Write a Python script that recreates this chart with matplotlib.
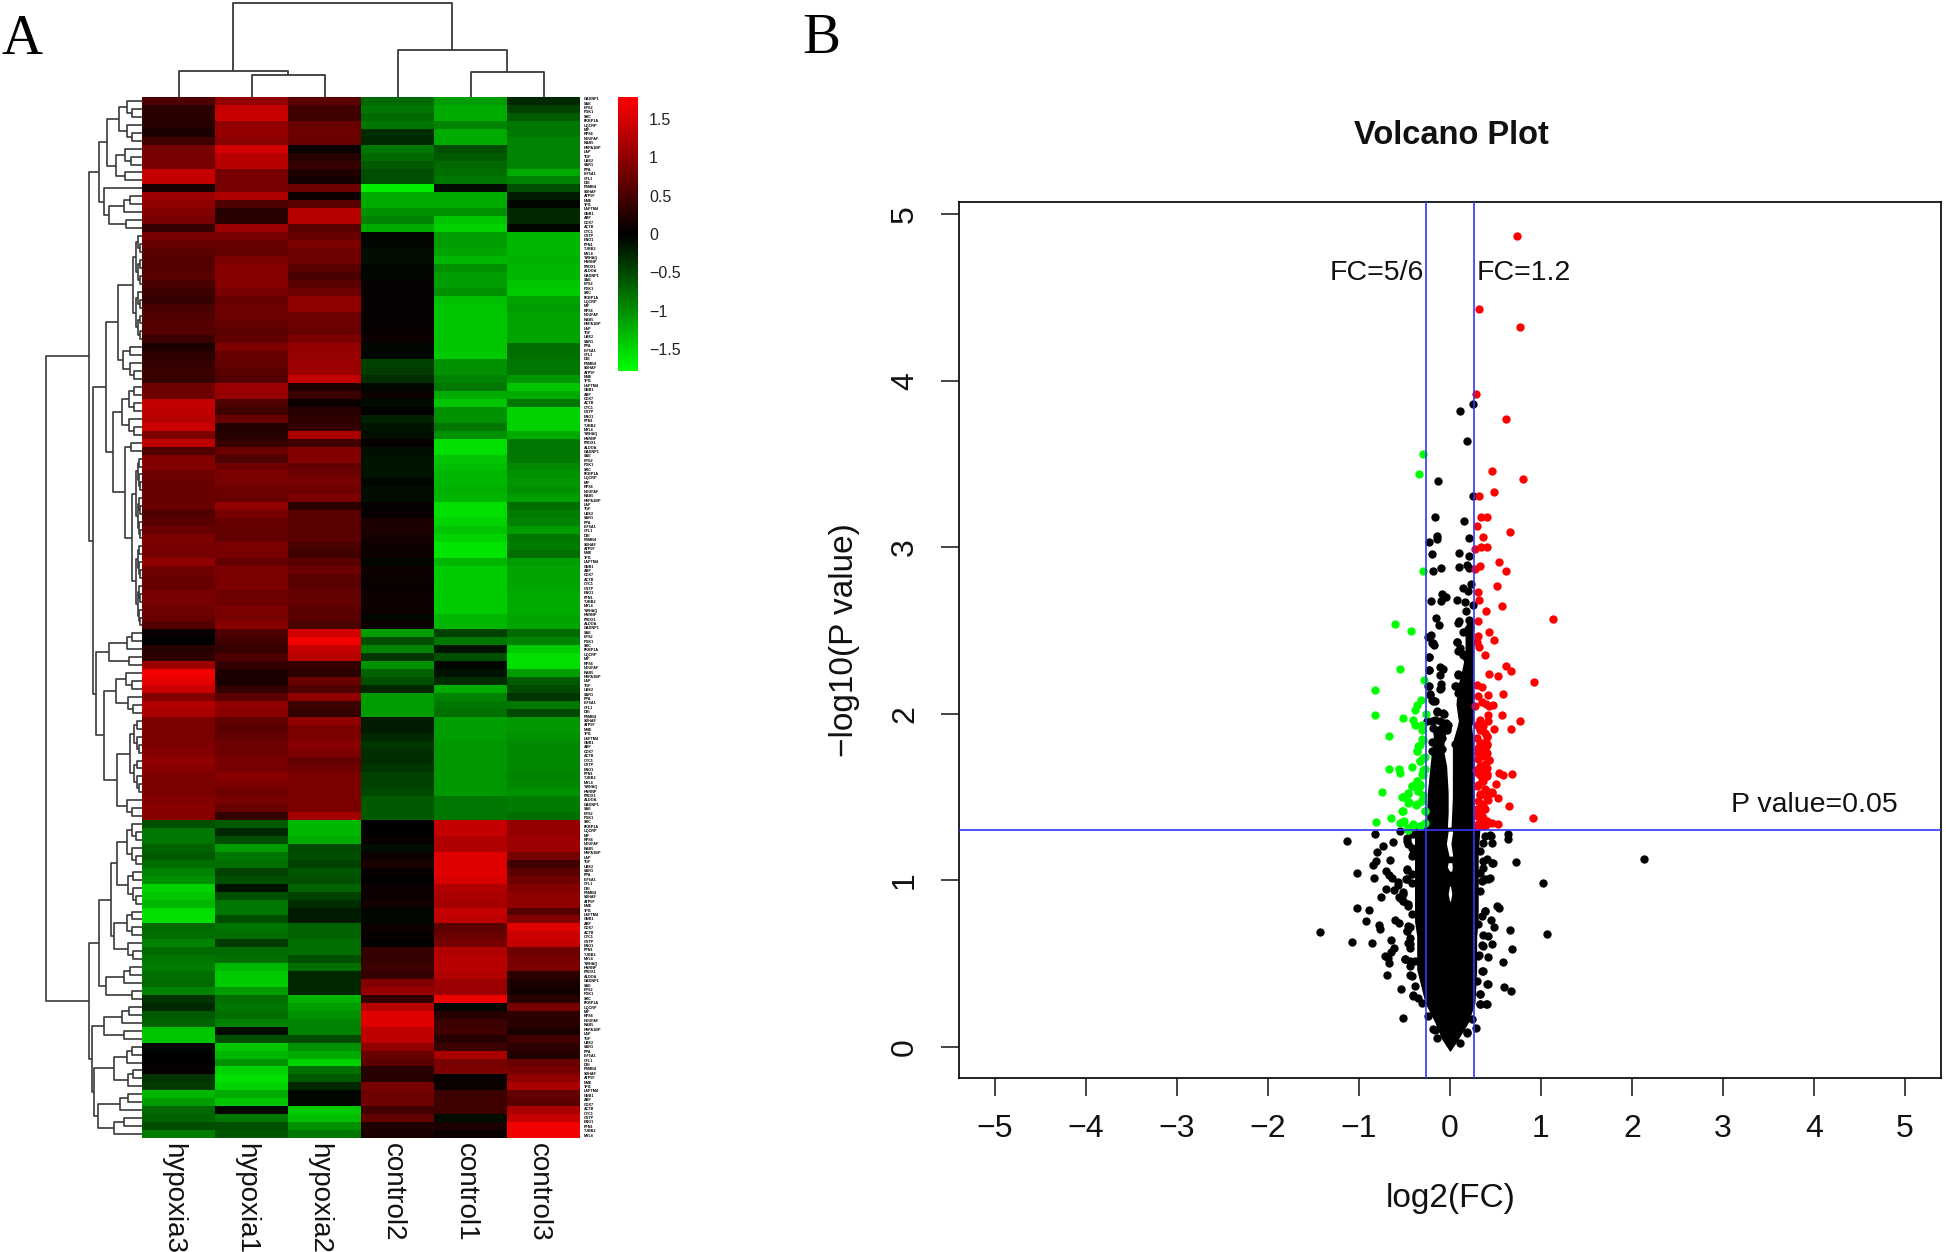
import numpy as np
import matplotlib
matplotlib.use('Agg')
import matplotlib.pyplot as plt
from matplotlib.colors import LinearSegmentedColormap
from matplotlib.collections import LineCollection

plt.rcParams['font.family'] = ['Liberation Sans', 'DejaVu Sans']

W, H = 1946, 1252

# panel A, heat map, one list per column (row values)
samples = ['hypoxia3', 'hypoxia1', 'hypoxia2', 'control2', 'control1', 'control3']
hypoxia3 = [0.6, 0.35, 0.35, 0.3, 0.2, 0.5, 0.9, 0.9, 0.9, 1.5, 1.5, 0.2, 1.2, 1.1, 1.0, 0.9, 0.4,
            0.9, 0.8, 0.7, 0.65, 0.65, 0.7, 0.55, 0.45, 0.4, 0.55, 0.6, 0.65, 0.65, 0.45, 0.2, 0.35,
            0.4, 0.45, 0.4, 0.85, 0.85, 1.5, 1.45, 1.4, 1.55, 0.95, 1.45, 0.6, 1.0, 1.0, 0.85, 0.8,
            0.8, 0.8, 0.8, 0.6, 0.7, 0.8, 0.95, 0.9, 0.9, 1.1, 0.85, 0.8, 0.8, 0.9, 0.9, 0.85,
            0.8, 0.65, 0.05, 0.0, 0.3, 0.35, 1.2, 1.85, 1.75, 1.55, 1.0, 1.35, 1.3, 0.95, 0.95, 0.95,
            0.95, 1.0, 1.1, 1.05, 0.95, 0.95, 0.95, 1.0, 1.05, 1.05, -0.6, -0.9,
            -0.9, -0.75, -0.7, -0.85, -1.0, -1.1, -1.6, -1.5, -1.4, -1.7, -1.7, -0.8, -0.85, -1.0,
            -0.8, -0.9, -0.95, -0.85, -0.8, -1.0, -0.4, -0.3, -0.7, -0.75, -1.5, -1.5, -0.05, 0.0,
            0.0, 0.05, -0.4, -0.45, -1.4, -1.2, -0.8, -0.75, -0.6, -0.95]
hypoxia1 = [1.1, 1.5, 1.55, 1.1, 1.15, 1.05, 1.6, 1.4, 1.4, 0.9, 0.9, 0.9, 1.35, 0.6, 0.3, 0.35, 1.2,
            0.9, 0.8, 0.75, 0.95, 1.05, 1.05, 1.05, 0.9, 0.8, 0.85, 0.85, 0.75, 0.7, 0.75, 0.95, 0.8,
            0.75, 0.7, 0.65, 1.2, 1.15, 0.6, 0.5, 0.8, 0.25, 0.3, 0.4, 0.8, 0.6, 0.85, 0.95, 0.9,
            0.85, 0.8, 1.1, 0.9, 0.8, 0.75, 0.75, 0.95, 0.9, 0.75, 0.95, 0.95, 0.95, 0.85, 0.85, 0.95,
            0.9, 1.05, 0.6, 0.5, 0.4, 0.6, 0.4, 0.2, 0.2, 0.4, 0.7, 1.1, 1.05, 0.75, 0.7, 0.75,
            0.85, 0.85, 0.9, 0.9, 1.05, 0.95, 0.85, 0.9, 0.8, 0.4, -0.7, -0.3,
            -0.6, -1.2, -0.9, -0.85, -0.5, -0.6, -0.15, -0.6, -0.9, -0.9, -0.6, -0.9, -0.85, -0.45,
            -0.8, -0.85, -1.4, -1.55, -1.55, -1.2, -0.85, -0.9, -0.85, -1.0, -0.1, -0.6, -1.5, -1.4,
            -1.1, -1.6, -1.7, -1.6, -1.3, -1.5, -0.05, -0.9, -0.6, -0.65]
hypoxia2 = [0.7, 0.5, 0.5, 0.8, 0.85, 0.8, 0.05, 0.3, 0.4, 0.25, 0.15, 0.85, 0.1, 0.7, 1.4, 1.4, 0.7,
            0.8, 0.95, 0.85, 0.85, 0.7, 0.55, 0.7, 0.85, 1.1, 1.1, 0.85, 0.85, 0.8, 0.95, 1.15, 1.15,
            1.2, 1.2, 1.5, 0.25, 0.45, 0.1, 0.3, 0.35, 0.4, 1.3, 0.5, 1.0, 1.0, 0.75, 0.85, 0.9,
            0.85, 0.95, 0.35, 0.7, 0.7, 0.7, 0.7, 0.55, 0.5, 0.7, 0.8, 0.7, 0.7, 0.75, 0.75, 0.7,
            0.7, 0.55, 1.6, 1.85, 1.5, 1.4, 0.4, 0.35, 0.8, 0.6, 1.1, 0.45, 0.4, 1.1, 0.95, 0.95,
            1.05, 0.95, 0.75, 0.85, 0.95, 0.95, 0.95, 0.95, 0.95, 1.25, -1.4, -1.4,
            -1.3, -0.55, -0.6, -0.5, -0.65, -0.6, -0.75, -0.5, -0.35, -0.2, -0.2, -0.75, -0.75, -0.85,
            -0.85, -0.6, -0.85, -0.3, -0.3, -0.3, -1.35, -1.2, -1.1, -1.0, -1.0, -0.55, -1.1, -1.3,
            -1.6, -0.85, -0.7, -0.3, -0.05, -0.05, -1.55, -1.45, -1.1, -0.9]
control2 = [-0.8, -0.9, -0.8, -0.9, -0.35, -0.3, -0.9, -0.8, -0.7, -0.6, -0.6, -1.8, -1.3, -1.3, -1.1, -1.0, -1.3,
            -0.05, -0.05, -0.1, -0.1, -0.05, -0.05, 0.05, 0.05, 0.05, 0.05, 0.05, 0.05, 0.05, 0.1, -0.05, -0.05,
            -0.5, -0.45, -0.35, -0.05, 0.1, -0.1, 0.0, -0.25, -0.15, -0.1, 0.05, -0.1, -0.15, -0.15, -0.15, -0.05,
            -0.1, -0.1, 0.05, 0.05, 0.2, 0.2, 0.15, 0.1, 0.1, -0.05, 0.1, 0.1, 0.05, 0.1, 0.1, 0.1,
            -0.05, 0.1, -1.2, -0.6, -1.0, -0.4, -1.1, -0.75, -0.6, -0.3, -1.2, -1.2, -1.2, -0.2, -0.2, -0.3,
            -0.4, -0.35, -0.35, -0.4, -0.5, -0.5, -0.55, -0.7, -0.7, -0.7, 0.0, 0.0,
            0.05, -0.1, 0.1, 0.2, 0.05, 0.0, 0.1, 0.1, 0.15, -0.05, -0.05, 0.1, 0.05, 0.0,
            0.4, 0.4, 0.45, 0.4, 1.0, 1.15, 0.4, 1.4, 1.7, 1.7, 1.45, 1.45, 1.1, 0.8,
            0.7, 0.3, 0.3, 0.9, 0.85, 0.85, 0.5, 0.75, 0.25, 0.2]
control1 = [-1.2, -1.3, -1.3, -1.0, -1.3, -1.3, -0.6, -0.7, -0.8, -0.85, -0.9, -0.1, -1.3, -1.3, -1.1, -1.5, -1.6,
            -1.2, -1.2, -1.25, -1.4, -1.1, -1.2, -1.2, -1.1, -1.45, -1.5, -1.5, -1.5, -1.5, -1.5, -1.5, -1.55,
            -1.1, -1.1, -1.0, -0.9, -1.3, -1.5, -1.1, -1.1, -0.9, -1.1, -1.7, -1.7, -1.5, -1.45, -1.4, -1.4,
            -1.35, -1.4, -1.7, -1.7, -1.6, -1.5, -1.6, -1.75, -1.75, -1.4, -1.55, -1.55, -1.55, -1.55, -1.55, -1.55,
            -1.4, -1.4, -0.5, -0.9, -0.15, -0.6, -0.05, -0.15, -0.35, -1.3, -1.0, -0.9, -0.85, -1.2, -1.2, -1.2,
            -1.15, -1.15, -1.15, -1.15, -1.15, -1.15, -1.15, -0.9, -0.9, -0.9, 1.5, 1.5,
            1.35, 1.35, 1.7, 1.7, 1.7, 1.65, 1.35, 1.3, 1.25, 1.5, 1.45, 0.7, 0.8, 0.9,
            1.35, 1.4, 1.4, 1.35, 1.2, 1.2, 1.8, -0.05, 0.3, 0.45, 0.5, 0.3, 0.45, 1.3,
            0.9, 0.95, 0.05, 0.1, 0.45, 0.5, 0.5, -0.1, 0.2, 0.1]
control3 = [-0.3, -0.5, -0.7, -0.9, -0.9, -1.0, -1.0, -1.0, -1.0, -1.3, -1.0, -0.6, -0.2, -0.05, -0.3, -0.3, -0.05,
            -1.4, -1.4, -1.4, -1.35, -1.4, -1.4, -1.5, -1.55, -1.25, -1.2, -1.25, -1.25, -1.25, -1.25, -0.85, -0.85,
            -0.9, -0.9, -1.15, -1.5, -1.3, -0.9, -1.6, -1.6, -1.6, -1.3, -0.9, -0.9, -0.9, -1.05, -1.1, -1.15,
            -1.1, -1.2, -0.85, -0.95, -1.0, -1.2, -0.9, -0.95, -0.85, -1.2, -1.25, -1.25, -1.25, -1.3, -1.3, -1.3,
            -1.25, -1.25, -0.8, -1.0, -1.55, -1.7, -1.7, -1.2, -0.7, -0.55, -0.4, -0.9, -0.55, -1.15, -1.15, -1.1,
            -1.05, -1.05, -1.05, -1.05, -1.0, -1.05, -1.1, -0.95, -0.95, -0.85, 1.15, 1.15,
            1.2, 1.2, 0.9, 0.5, 0.7, 0.85, 1.0, 1.1, 1.1, 0.65, 1.0, 1.7, 1.55, 1.5,
            0.85, 0.9, 0.95, 0.35, 0.2, 0.15, 0.3, 0.9, 0.35, 0.35, 0.2, 0.5, 0.35, 0.25,
            0.8, 0.9, 1.1, 1.3, 0.75, 0.7, 1.3, 1.5, 1.85, 1.85]
heat_columns = [hypoxia3, hypoxia1, hypoxia2, control2, control1, control3]

# merge heights of the dendrograms; an int is a block of that many rows
col_tree = (94, (26, 1, (22, 1, 1)), (47, 1, (25, 1, 1)))
row_a1 = (43, (35, (23, 3, 3), (26, 3, 2)), (38, 1, (33, (18, 2, 1), (16, 1, 1))))
row_a2a = (36, (24, (9, 7, 7), (19, 2, 3)),
           (29, (20, (13, 2, 2), (13, 1, 2)), (17, 2, (10, 11, 11))))
row_a2b = (46, (33, (15, 2, 1), (13, 1, 1)),
           (38, (26, (16, 1, 2), (14, 1, 2)), (25, (12, 5, 5), (15, 1, 2))))
row_b1 = (43, (31, (25, (15, 3, 3), (14, 2, 3)), (28, (15, 2, 2), (14, 1, 2))),
          (36, (18, 2, 1), (10, 1, 1)))
row_b2 = (50, (38, (20, 2, 1), (18, 1, 1)),
          (48, (28, (15, 2, 1), (14, 2, 1)), (44, (22, 2, 1), (28, 2, 1))))
row_tree = (96, (53, row_a1, (49, row_a2a, row_a2b)), (53, row_b1, row_b2))

# tiny row labels, not legible in the source
gene_names = ['GADNP1', 'SAE', 'EPS2', 'PGK1', 'SRC', 'FKBP1A', 'UQCRP', 'MIF', 'RPS6', 'NDUFAF',
              'RAB5', 'HSPA1BP', 'LAP', 'TGF', 'UBE2', 'SAR1', 'PPA', 'EIF5A1', 'CFL1', 'DBI',
              'PSMB4', 'SDHAF', 'ATP5F', 'NME', 'TPI1', 'LAPTM4', 'GNB1', 'ARF', 'COX7', 'ACTB',
              'CYC1', 'GSTP', 'ENO1', 'PFN1', 'TUBB2', 'MYL6', 'YWHAQ', 'HNRNP', 'PRDX1', 'ALDOA']
cbar_ticks = [1.5, 1, 0.5, 0, -0.5, -1, -1.5]
cbar_labels = ['1.5', '1', '0.5', '0', '\u22120.5', '\u22121', '\u22121.5']

# panel B, volcano plot
red_x = [.733, .319, .766, .282, .612, .465, .799, .487, .319, .341, .410, .293, .663, .359, .275, .337, .403,
         .535, .615, .33, .278, .516, .311, .322, .575, .399, .311, 1.132, .432, .308, .484, .293, .322, .388,
         .615, .674, .429, .527, .919, .293, .355, .311, .418, .586, .348, .399, .473, .429, .275, .575, .421,
         .33, .769, .421, .293, .366, .487, .67, .33, .403, .293, .33, .403, .366, .311, .403, .366, .429, .33,
         .403, .286, .542, .678, .41, .586, .33, .502, .366, .311, .403, .465, .527, .33, .421, .366, .311,
         .648, .33, .908, .366, .33, .465, .531, .396, .30, .30,
         .33, .385, .41, .366, .41, .311, .385, .348, .311, .385, .432, .366, .311, .403, .348, .30, .385, .458,
         .33, .403, .348, .30, .385, .348, .403, .311, .366]
red_y = [4.87, 4.43, 4.32, 3.92, 3.77, 3.46, 3.41, 3.33, 3.31, 3.18, 3.18, 3.125, 3.09, 3.06, 2.99, 3.00, 3.00,
         2.91, 2.86, 2.89, 2.87, 2.77, 2.73, 2.685, 2.65, 2.62, 2.557, 2.567, 2.49, 2.47, 2.44, 2.43, 2.40, 2.35,
         2.285, 2.255, 2.24, 2.225, 2.19, 2.17, 2.16, 2.105, 2.115, 2.12, 2.07, 2.06, 2.055, 2.045, 2.045, 1.99, 1.99,
         1.965, 1.955, 1.955, 1.935, 1.925, 1.91, 1.91, 1.905, 1.86, 1.855, 1.825, 1.815, 1.795, 1.765, 1.765, 1.745, 1.72, 1.685,
         1.675, 1.665, 1.645, 1.64, 1.64, 1.63, 1.635, 1.58, 1.595, 1.575, 1.535, 1.525, 1.495, 1.515, 1.48, 1.455, 1.475,
         1.445, 1.425, 1.375, 1.375, 1.345, 1.345, 1.34, 1.335, 1.385, 1.325,
         1.907, 1.887, 1.867, 1.827, 1.817, 1.797, 1.787, 1.757, 1.727, 1.697, 1.72, 1.657, 1.647, 1.627, 1.597, 1.567, 1.547, 1.531,
         1.517, 1.497, 1.457, 1.427, 1.427, 1.387, 1.357, 1.337, 1.327]
green_x = [-.30, -.34, -.30, -.608, -.429, -.546, -.282, -.824, -.322, -.359, -.381, -.82, -.264, -.52, -.403, -.385,
           -.304, -.311, -.67, -.30, -.33, -.366, -.275, -.33, -.667, -.56, -.549, -.421, -.293, -.30, -.366, -.421,
           -.747, -.33, -.458, -.348, -.52, -.293, -.458, -.377, -.311, -.52, -.275, -.648, -.813, -.513, -.549, -.41,
           -.33, -.458,
           -.311, -.311, -.348, -.366, -.33, -.293, -.275, -.311, -.366, -.421, -.33, -.348, -.524, -.465, -.447, -.366,
           -.311, -.275, -.524, -.531, -.502, -.403, -.33, -.465, -.275]
green_y = [3.56, 3.44, 2.86, 2.54, 2.50, 2.27, 2.20, 2.14, 2.08, 2.05, 2.02, 1.995, 2.00, 1.975, 1.96, 1.935,
           1.935, 1.90, 1.865, 1.845, 1.815, 1.775, 1.74, 1.715, 1.67, 1.67, 1.645, 1.68, 1.665, 1.63, 1.595, 1.565,
           1.53, 1.565, 1.525, 1.535, 1.50, 1.515, 1.465, 1.45, 1.485, 1.415, 1.415, 1.375, 1.35, 1.35, 1.345, 1.335,
           1.325, 1.305,
           1.907, 1.847, 1.807, 1.777, 1.717, 1.737, 1.667, 1.637, 1.597, 1.567, 1.577, 1.537, 1.50, 1.52, 1.47, 1.457,
           1.477, 1.417, 1.415, 1.35, 1.357, 1.337, 1.327, 1.317, 1.347]
black_x = [.253, .11, .183, -.128, .256, -.165, .15, -.147, -.147, -.227, .209, -.198, .099, .209, -.183, -.103, .099,
           .19, .212, .227, .147, .201, -.084, -.044, -.103, -.205, .077, .165, .256, .176, -.158, .095, .205, -.117,
           .147, .22, -.212, -.238, .081, -.201, -.176, .11, .147, -.234, -.11, -.227, -.11, .092, -.103, -.103, -.234,
           .062, -.22, -.201, -.165, -.139, -.062, -.256, -.165, -.073, -.018, -.029, -.147, -.092, -.201, .055, -.092,
           -.128, -.201,
           2.136, .722, 1.026, 1.07, -1.132, -.824, -.546, -.63, -.733, -.799, -.656, -.813, -.842, -1.018, -.832, -.703,
           -.674, -.641, -.568, -.575, -.707, -.615, -.513, -.762, -.557, -.513, -1.018, -.89, -.919, -.601, -.56, -.777,
           -.766, -1.425, -1.073, -.853, -.645, -.615, -.645, -.711, -.678, -.67, -.689, -.538, -.516, -.495, -.44, -.476,
           -.476, -.484, -.458, -.44, -.44, -.403, -.476, -.458, -.403, -.403,
           .634, .641, .447, .458, .469, .366, .421, .348, .513, .535, .385, .447, .487, .659, .366, .418, .465, .355,
           .685, .421, .315, .579, .366, .421, .597, .667, .33, .396, .33, .289, .183, -.165,
           -.469, -.421, -.421, -.469, -.421, -.469, -.421, -.513, -.549, -.513, -.458, -.421, -.458, -.469, -.44,
           .385, .44, .366, .33, .403, .465, .366, .33, .44, .385, .33, .385, .348, .311,
           -.458, -.44, -.495, -.44, -.385, -.44, -.421, -.385, -.403, -.348, -.311, -.238, -.183, -.147,
           .366, .311, .348, .293, .403, .33, .403, .33, .238, .183, .11,
           -.19, -.231, -.231, -.073, -.238, -.11, -.22, -.183, -.147, -.073, -.201, -.11, -.044, -.183, -.092, -.029,
           .092, .201, .081, .092, .147, .183, .092, .055, .092]
black_y = [3.86, 3.82, 3.64, 3.40, 3.31, 3.18, 3.155, 3.07, 3.05, 3.03, 3.055, 2.96, 2.965, 2.95, 2.86, 2.875, 2.88,
           2.895, 2.875, 2.78, 2.755, 2.735, 2.72, 2.70, 2.68, 2.68, 2.685, 2.67, 2.655, 2.62, 2.575, 2.555, 2.565, 2.535,
           2.49, 2.52, 2.475, 2.46, 2.43, 2.425, 2.41, 2.395, 2.355, 2.34, 2.28, 2.26, 2.235, 2.235, 2.18, 2.155, 2.165,
           2.165, 2.115, 2.08, 2.075, 2.01, 2.00, 1.955, 1.96, 1.945, 1.935, 1.90, 1.885, 1.855, 1.83, 1.82, 1.79,
           1.755, 1.775,
           1.128, 1.108, .986, .68, 1.235, 1.277, 1.295, 1.232, 1.206, 1.17, 1.125, 1.116, 1.092, 1.042, 1.014, 1.056,
           1.03, 1.012, .99, .972, .948, .94, .93, .90, .90, .876, .832, .822, .758, .764, .742, .732,
           .708, .692, .628, .626, .64, .594, .57, .546, .532, .506, .434, .348, .172, .526, .72, .696,
           1.06, 1.006, .856, .616, .43, .312, 1.256, 1.216, 1.277, 1.156,
           1.277, 1.246, 1.267, 1.226, 1.102, 1.116, 1.006, .996, .846, .832, .816, .762, .72, .702, .67, .666, .618, .612,
           .588, .542, .55, .512, .456, .376, .36, .336, .316, .256, .26, .116, .092, .10,
           1.236, 1.196, 1.146, 1.066, 1.036, 1.006, .986, .916, .896, .876, .846, .796, .726, .696, .656,
           1.266, 1.272, 1.226, 1.176, 1.126, 1.102, 1.076, 1.046, 1.016, 1.006, .936, .816, .786, .736,
           .622, .596, .526, .516, .516, .486, .426, .366, .306, .296, .266, .186, .106, .056,
           .606, .546, .456, .396, .376, .316, .256, .256, .166, .086, .026,
           2.427, 2.343, 2.263, 2.267, 2.167, 2.147, 2.12, 2.077, 2.017, 2.003, 1.957, 1.957, 1.947, 1.917, 1.917, 1.913,
           2.547, 2.507, 2.433, 2.377, 2.357, 2.327, 2.237, 2.167, 2.127]
# outline of the parts of the cloud where the black points merge into one shape
core_y = [1.32, 1.157, .956, .756, .666, .466, .266, .146, .046, -.024]
core_left = [-.39, -.39, -.39, -.39, -.366, -.366, -.275, -.165, -.09, -.005]
core_right = [.33, .31, .31, .31, .293, .293, .275, .2, .09, .005]
lobe_r_y = [2.557, 2.477, 2.357, 2.257, 2.157, 2.057, 1.957, 1.927, 1.827, 1.7, 1.5, 1.30]
lobe_r_left = [.183, .165, .165, .128, .08, .066, .092, .08, .026, .026, .026, .01]
lobe_r_right = [.256, .256, .256, .256, .256, .256, .256, .238, .256, .264, .264, .264]
lobe_l_y = [1.927, 1.867, 1.787, 1.687, 1.527, 1.407, 1.30]
lobe_l_left = [-.183, -.183, -.201, -.22, -.249, -.256, -.256]
lobe_l_right = [-.01, -.055, -.073, -.037, -.02, -.02, -.03]
# white slits along x = 0 where the cloud does not quite close
slit_y = [[1.296, 1.22, 1.146], [1.106, 1.08, 1.056], [.966, .92, .876]]
slit_left = [[-.02, -.04, -.01], [-.02, -.03, -.005], [-.005, -.02, -.005]]
slit_right = [[.03, .01, .03], [.02, .025, .02], [.005, .02, .005]]
x_ticks = [-5, -4, -3, -2, -1, 0, 1, 2, 3, 4, 5]
y_ticks = [0, 1, 2, 3, 4, 5]
fc_low = np.log2(5 / 6)
fc_high = np.log2(1.2)
p_line = -np.log10(0.05)


def px_axes(fig, left, top, right, bottom):
    return fig.add_axes([left / W, 1 - bottom / H, (right - left) / W, (bottom - top) / H])


def tree_segments(node, start, segs):
    # returns (centre, height, rows used), appends bracket segments as (pos, height) pairs
    if isinstance(node, int):
        if node == 1:
            return start + 0.5, 0, 1
        node = (node * 1.2 + 2, node // 2, node - node // 2)
    d, a, b = node
    if isinstance(a, int) and a > 1:
        a = (d * 0.65, a // 2, a - a // 2)
    if isinstance(b, int) and b > 1:
        b = (d * 0.65, b // 2, b - b // 2)
    ca, ha, na = tree_segments(a, start, segs)
    cb, hb, nb = tree_segments(b, start + na, segs)
    segs.append([(ca, ha), (ca, d), (cb, d), (cb, hb)])
    return (ca + cb) / 2, d, na + nb


fig = plt.figure(figsize=(W / 100, H / 100), dpi=100)

green_black_red = LinearSegmentedColormap.from_list('gbr', ['#00ff00', '#000000', '#ff0000'])
v_lim = 1.78
heat_lim = 1.95

# heat map
ax_heat = px_axes(fig, 142, 97, 580, 1138)
values = np.array(heat_columns).T
ax_heat.imshow(values, cmap=green_black_red, vmin=-heat_lim, vmax=heat_lim, aspect='auto',
               interpolation='nearest')
ax_heat.axis('off')
for i, name in enumerate(samples):
    fig.text((137 + (i + 0.5) * 73) / W, 1 - 1143 / H, name, rotation=270, ha='center', va='top',
             fontsize=20, color='#111111')

# dendrograms
segs = []
tree_segments(row_tree, 0, segs)
ax_left = px_axes(fig, 40, 97, 142, 1138)
ax_left.add_collection(LineCollection([[(h, p) for p, h in s] for s in segs], colors='#3a3a3a', linewidths=1.2))
ax_left.set_xlim(102, 0)
ax_left.set_ylim(values.shape[0], 0)
ax_left.axis('off')

segs = []
tree_segments(col_tree, 0, segs)
ax_top = px_axes(fig, 142, 0, 580, 97)
ax_top.add_collection(LineCollection(segs, colors='#3a3a3a', linewidths=1.3))
ax_top.set_xlim(0, 6)
ax_top.set_ylim(0, 97)
ax_top.axis('off')

# row labels
for i in range(236):
    fig.text(584 / W, 1 - (97 + (i + 0.5) * 4.41) / H, gene_names[i % len(gene_names)], fontsize=2.7,
             fontweight='bold', ha='left', va='center', color='black')

# colour bar
ax_cbar = px_axes(fig, 618, 97, 638, 371)
gradient = np.linspace(v_lim, -v_lim, 256).reshape(-1, 1)
ax_cbar.imshow(gradient, cmap=green_black_red, vmin=-v_lim, vmax=v_lim, aspect='auto',
               extent=[0, 1, -v_lim, v_lim])
ax_cbar.set_xticks([])
ax_cbar.yaxis.tick_right()
ax_cbar.set_yticks(cbar_ticks)
ax_cbar.set_yticklabels(cbar_labels, fontsize=11.5, color='#222222')
ax_cbar.tick_params(axis='y', length=0, pad=8)
for sp in ax_cbar.spines.values():
    sp.set_visible(False)

# volcano
ax = px_axes(fig, 959, 202, 1941, 1078)
ax.set_xlim(-5.396, 5.396)
ax.set_ylim(-0.186, 5.072)
ax.fill_betweenx(core_y, core_left, core_right, color='black', lw=0, zorder=1)
ax.fill_betweenx(lobe_r_y, lobe_r_left, lobe_r_right, color='black', lw=0, zorder=1)
ax.fill_betweenx(lobe_l_y, lobe_l_left, lobe_l_right, color='black', lw=0, zorder=1)
ax.scatter(black_x, black_y, s=36, c='black', linewidths=0, zorder=2)
for sy, sl, sr in zip(slit_y, slit_left, slit_right):
    ax.fill_betweenx(sy, sl, sr, color='white', lw=0, zorder=2.5)
ax.scatter(green_x, green_y, s=36, c='#00ff00', linewidths=0, zorder=3)
ax.scatter(red_x, red_y, s=36, c='#ff0000', linewidths=0, zorder=4)
for v in (fc_low, fc_high):
    ax.axvline(v, color='#3535ff', lw=1.2, zorder=5)
ax.axhline(p_line, color='#3535ff', lw=1.2, zorder=5)
ax.text(-0.29, 4.645, 'FC=5/6', ha='right', va='center', fontsize=20.5, color='#111111')
ax.text(0.295, 4.645, 'FC=1.2', ha='left', va='center', fontsize=20.5, color='#111111')
ax.text(4.0, 1.45, 'P value=0.05', ha='center', va='center', fontsize=20.5, color='#111111')
ax.set_xticks(x_ticks)
ax.set_xticklabels([str(v).replace('-', '\u2212') for v in x_ticks])
ax.set_yticks(y_ticks)
ax.set_yticklabels([str(v) for v in y_ticks], rotation=90, va='center')
ax.tick_params(axis='both', length=13, width=1.1, labelsize=23, color='#111111', labelcolor='#111111')
ax.tick_params(axis='x', pad=13)
ax.tick_params(axis='y', pad=15)
for sp in ax.spines.values():
    sp.set_linewidth(1.3)
    sp.set_color('#111111')

fig.text(1451 / W, 1 - 135 / H, 'Volcano Plot', ha='center', va='center', fontsize=23.5, fontweight='bold',
         color='#111111')
fig.text(1451 / W, 1 - 1199 / H, 'log2(FC)', ha='center', va='center', fontsize=24, color='#111111')
fig.text(844 / W, 1 - 640 / H, '\u2212log10(P value)', ha='center', va='center', rotation=90, fontsize=24,
         color='#111111')

# panel letters
fig.text(2 / W, 1 - 54 / H, 'A', family='Liberation Serif', fontsize=41, ha='left', va='baseline', color='black')
fig.text(802 / W, 1 - 53 / H, 'B', family='Liberation Serif', fontsize=41, ha='left', va='baseline', color='black')

fig.savefig('out.png', dpi=100)
